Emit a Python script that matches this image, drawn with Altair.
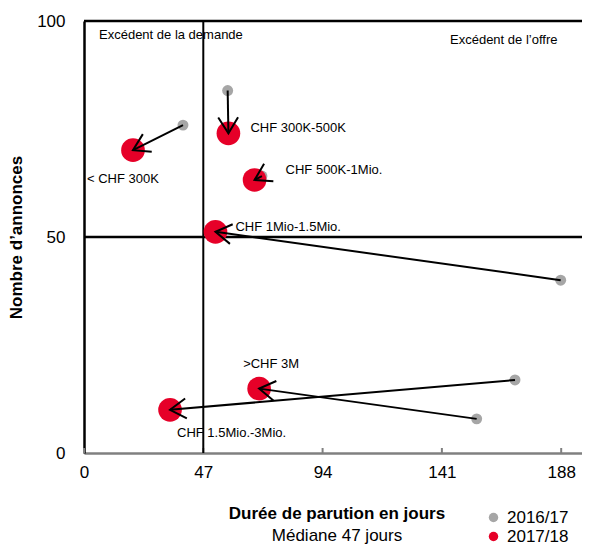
import math
import altair as alt
import pandas as pd

# ---------------- data ----------------
categories = ["< CHF 300K", "CHF 300K-500K", "CHF 500K-1Mio.", "CHF 1Mio-1.5Mio.",
              ">CHF 3M", "CHF 1.5Mio.-3Mio."]
days_2016 = [39.0, 56.6, 70.1, 187.8, 154.7, 169.8]
ads_2016 = [75.9, 83.9, 64.1, 40.0, 7.9, 16.9]
days_2017 = [19.3, 56.9, 67.2, 51.8, 69.0, 33.9]
ads_2017 = [70.1, 74.0, 63.2, 51.2, 14.9, 10.0]
series = ["2016/17", "2017/18"]
x_ticks = [0, 47, 94, 141, 188]
y_ticks = [0, 50, 100]
median_days = 47
balance_ads = 50
y_max = 100
x_max = 196.2
zone_texts = ["Excédent de la demande", "Excédent de l\u2019offre"]
x_title = ["Durée de parution en jours", "Médiane 47 jours"]
y_title = "Nombre d\u2019annonces"

# ---------------- style ----------------
RED = "#E60028"
GRAY = "#A6A6A6"
FONT = "Liberation Sans"
W, H = 498, 432
# label offsets in pixels relative to the 2017/18 point
label_offsets = {
    "< CHF 300K": (-46, 29),
    "CHF 300K-500K": (22, -5),
    "CHF 500K-1Mio.": (31, -10),
    "CHF 1Mio-1.5Mio.": (20, -5),
    ">CHF 3M": (-16, -25),
    "CHF 1.5Mio.-3Mio.": (7, 23),
}

points = pd.DataFrame({
    "category": categories * 2,
    "series": [series[0]] * len(categories) + [series[1]] * len(categories),
    "days": days_2016 + days_2017,
    "ads": ads_2016 + ads_2017,
})

sx, sy = W / x_max, H / y_max
moves = pd.DataFrame({"category": categories, "x0": days_2016, "y0": ads_2016,
                      "x1": days_2017, "y1": ads_2017})
moves["angle"] = [
    math.degrees(math.atan2(-(b1 - b0) * sy, (a1 - a0) * sx)) % 360
    for a0, b0, a1, b1 in zip(days_2016, ads_2016, days_2017, ads_2017)
]
ref_x = pd.DataFrame({"v": [median_days]})
ref_y = pd.DataFrame({"v": [balance_ads, y_max]})
tick_df = pd.DataFrame({"v": x_ticks})

x_scale = alt.Scale(domain=[0, x_max], nice=False, zero=False)
y_scale = alt.Scale(domain=[0, y_max], nice=False, zero=False)
x_axis = alt.Axis(values=x_ticks, ticks=False, grid=False, title=None,
                  labelFontSize=17, labelFont=FONT, labelColor="black",
                  labelPadding=11, labelFlush=False,
                  domainColor="#808080", domainWidth=2.5)
y_axis = alt.Axis(values=y_ticks, ticks=False, grid=False,
                  title=y_title, titleFont=FONT, titleFontSize=17,
                  titleFontWeight="bold", titleColor="black", titlePadding=11,
                  labelFontSize=17, labelFont=FONT, labelColor="black",
                  labelPadding=19, domainColor="black", domainWidth=2.5)


def X(f):
    return alt.X(f, type="quantitative", scale=x_scale, axis=x_axis)


def Y(f):
    return alt.Y(f, type="quantitative", scale=y_scale, axis=y_axis)


color_enc = alt.Color(
    "series:N", scale=alt.Scale(domain=series, range=[GRAY, RED]),
    legend=alt.Legend(title=None, orient="none", legendX=401, legendY=488,
                      labelFontSize=17, labelFont=FONT, labelColor="black",
                      symbolType="circle", symbolSize=90, rowPadding=1,
                      labelOffset=5, padding=0, symbolStrokeWidth=0,
                      symbolOpacity=1))

axis_ticks = alt.Chart(tick_df).mark_rule(color="#808080", strokeWidth=2).encode(
    x=X("v"), y=alt.value(H - 5), y2=alt.value(H))

vline = alt.Chart(ref_x).mark_rule(color="black", strokeWidth=2).encode(x=X("v"))
hlines = alt.Chart(ref_y).mark_rule(color="black", strokeWidth=2.3).encode(y=Y("v"))

dots_old = alt.Chart(points).transform_filter(alt.datum.series == series[0]).mark_circle(
    opacity=1, size=120).encode(x=X("days"), y=Y("ads"), color=color_enc)
dots_new = alt.Chart(points).transform_filter(alt.datum.series == series[1]).mark_circle(
    opacity=1, size=560).encode(x=X("days"), y=Y("ads"), color=color_enc)

shafts = alt.Chart(moves).mark_rule(color="black", strokeWidth=2).encode(
    x=X("x0"), y=Y("y0"), x2="x1", y2="y1")

heads = alt.Chart(moves).mark_point(
    shape="M -1 -0.62 L 0 0 L -1 0.62", filled=False, stroke="black",
    strokeWidth=2, size=1024, opacity=1).encode(
    x=X("x1"), y=Y("y1"), angle=alt.Angle("angle:Q", scale=None))

labels = []
for cat, (dx, dy) in label_offsets.items():
    labels.append(
        alt.Chart(moves).transform_filter(alt.datum.category == cat).mark_text(
            align="left", baseline="middle", dx=dx, dy=dy, fontSize=13, font=FONT,
            color="black").encode(x=X("x1"), y=Y("y1"), text="category:N"))

zone_df = pd.DataFrame({"t": zone_texts})
zone1 = alt.Chart(zone_df).transform_filter(alt.datum.t == zone_texts[0]).mark_text(
    align="left", baseline="middle", fontSize=13, font=FONT, color="black").encode(
    x=alt.value(15), y=alt.value(14), text="t:N")
zone2 = alt.Chart(zone_df).transform_filter(alt.datum.t == zone_texts[1]).mark_text(
    align="left", baseline="middle", fontSize=13, font=FONT, color="black").encode(
    x=alt.value(366), y=alt.value(19), text="t:N")

xt_df = pd.DataFrame({"t": x_title})
xtitle1 = alt.Chart(xt_df).transform_filter(alt.datum.t == x_title[0]).mark_text(
    align="center", baseline="middle", fontSize=17, fontWeight="bold", font=FONT,
    color="black").encode(x=alt.value(253), y=alt.value(493), text="t:N")
xtitle2 = alt.Chart(xt_df).transform_filter(alt.datum.t == x_title[1]).mark_text(
    align="center", baseline="middle", fontSize=17, font=FONT,
    color="black").encode(x=alt.value(253), y=alt.value(515), text="t:N")

chart = alt.layer(axis_ticks, vline, hlines, dots_old, dots_new, shafts, heads,
                  *labels, zone1, zone2, xtitle1, xtitle2).properties(
    width=W, height=H,
    autosize=alt.AutoSizeParams(type="none"),
    padding={"left": 76, "top": 13, "right": 0, "bottom": 92},
).configure_view(stroke=None).configure(background="white")

chart.save("out.html", embed_options={"renderer": "svg", "actions": False})
